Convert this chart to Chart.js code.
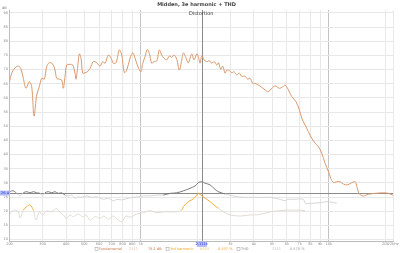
<!DOCTYPE html>
<html>
<head>
<meta charset="utf-8">
<script src="https://cdn.jsdelivr.net/npm/chart.js@4.4.1/dist/chart.umd.min.js"></script>
<style>
body { margin: 0; background: #fff; }
</style>
</head>
<body>
<canvas id="graphique-distorsion" width="400" height="253"></canvas>
<script>
// distorsion.js
// courbe fondamentale, 3e harmonique et THD (mesure REW "Midden")

// fondamentale : fréquences (Hz) et niveaux (dB)
const fondFreq = [200, 205.5, 214, 222.8, 229.5, 236.9, 244.8, 255, 262.6, 270.1, 279.2, 288.2, 296.8, 306.4, 315.6, 325.8, 339.7, 349.4, 356.8, 368.3,
    379.3, 386.8, 395, 403.4, 420, 434.1, 446.5, 452, 461.5, 470.7, 480.6, 490.7, 504.8, 519.3, 536.7, 559, 582.8, 606.8, 627.3, 645.2,
    671.8, 694.4, 714.3, 738.3, 768.8, 791.7, 817.4, 841.8, 876.6, 905.9, 931.8, 958.5, 999.3, 1024, 1053, 1083, 1110, 1143, 1176, 1216,
    1255, 1292, 1329, 1374, 1419, 1461, 1503, 1554, 1604, 1652, 1685, 1741, 1791, 1867, 1921, 1986, 2025, 2068, 2111, 2172,
    2245, 2317, 2387, 2455, 2537, 2588, 2665, 2731, 2809, 2869, 2962, 3050, 3138, 3243, 3349, 3449, 3591, 3694, 3818, 3946,
    4059, 4227, 4406, 4587, 4776, 4982, 5188, 5468, 5700, 5864, 6105, 6365, 6708, 6986, 7195, 7492, 7801, 8133, 8469, 8818,
    9193, 9574, 9969, 10265, 10599, 11050, 11508, 11982, 12585, 13122, 13831, 14122, 14580, 15311, 16278, 17675, 19564, 20803, 22000];
const fondDb = [65.7, 68.7, 70.6, 71.2, 70.4, 66.9, 63.4, 65.7, 63.9, 53.6, 61.0, 63.9, 66.9, 66.6, 71.0, 72.4, 71.9, 69.8, 66.9, 66.6,
    66.3, 63.4, 67.5, 71.6, 71.8, 71.6, 68.7, 66.6, 71.0, 75.5, 74.0, 68.7, 68.9, 69.2, 70.4, 72.8, 72.4, 71.2, 72.8, 72.2,
    75.1, 74.0, 72.2, 72.4, 76.9, 75.1, 68.9, 69.8, 74.0, 75.9, 74.0, 71.6, 69.2, 72.2, 74.5, 77.1, 75.7, 72.2, 72.8, 73.1,
    76.9, 75.1, 74.0, 73.4, 74.8, 74.3, 75.1, 73.6, 69.8, 73.4, 75.9, 74.0, 72.4, 75.5, 73.4, 75.5, 74.5, 72.2, 74.8, 73.4,
    72.8, 73.1, 72.2, 72.8, 71.6, 72.4, 70.1, 71.2, 68.7, 69.8, 69.6, 68.9, 69.2, 68.1, 68.7, 67.5, 67.7, 66.6, 66.9, 65.1,
    65.1, 64.5, 63.7, 62.8, 62.2, 63.4, 64.2, 63.4, 63.9, 64.5, 62.8, 60.4, 58.6, 55.7, 52.8, 50.4, 48.1, 45.7, 44.0, 42.8,
    40.4, 36.9, 34.0, 31.6, 30.2, 30.4, 30.4, 29.6, 29.3, 29.9, 30.4, 28.7, 26.1, 25.4, 26.0, 26.3, 26.5, 26.3, 25.7];

// THD
const thdFreq = [200, 209.5, 218.5, 227.6, 236.9, 247, 257, 268, 279, 291, 300, 309, 322, 336, 349, 364, 379, 395, 411, 429,
    446, 465, 485, 515, 548, 583, 607, 632, 672, 714, 745, 792, 858, 913, 970, 1032, 1120, 1216, 1318, 1431,
    1554, 1685, 1829, 1944, 2025, 2111, 2198, 2337, 2485, 2588, 2809, 3111, 3516, 3976, 4493, 4878, 5513, 5864, 5986, 6492,
    7338, 7492, 7964, 9004, 9773, 11050];
const thdDb = [26.9, 27.2, 26.3, 25.4, 26.5, 26.9, 26.5, 26.9, 26.5, 26.3, 25.4, 26.5, 26.9, 26.5, 26.9, 26.3, 26.5, 25.7, 25.4, 25.7,
    24.6, 25.1, 24.9, 25.4, 24.9, 25.1, 24.6, 24.2, 24.6, 23.7, 24.2, 24.0, 24.6, 24.9, 25.1, 25.4, 25.4, 25.7, 25.7, 26.3,
    26.5, 27.2, 28.1, 28.9, 30.1, 30.4, 29.9, 29.3, 27.7, 26.9, 26.1, 25.4, 24.9, 24.9, 24.9, 24.9, 24.2, 23.7, 24.2, 24.2,
    24.2, 22.8, 22.8, 23.0, 23.4, 22.8];

// 3e harmonique
const h3Freq = [200, 209.5, 222.8, 227.6, 236.9, 247, 257, 268, 277, 288, 300.5, 316, 329, 342, 357, 368, 387, 403, 420, 437,
    465, 491, 511, 537, 571, 607, 637, 672, 714, 759, 792, 835, 877, 951, 1032, 1120, 1216, 1318, 1431, 1554,
    1652, 1685, 1791, 1867, 1944, 2025, 2085, 2198, 2337, 2485, 2588, 2751, 2987, 3377, 3818, 4227, 4684, 4878, 5513, 5986,
    6492, 7047, 7492];
const h3Db = [18.7, 20.4, 19.8, 17.5, 20.4, 21.6, 22.2, 20.4, 16.9, 19.8, 18.7, 20.2, 19.8, 20.2, 21.0, 19.8, 18.7, 17.5, 18.7, 18.1,
    19.0, 18.1, 18.7, 16.9, 18.1, 17.5, 18.3, 17.2, 18.3, 16.9, 16.3, 18.3, 17.9, 19.0, 19.5, 20.2, 19.5, 19.8, 19.8, 19.8,
    20.4, 21.6, 23.4, 24.0, 24.9, 26.3, 25.7, 24.6, 23.4, 21.9, 21.0, 19.8, 18.7, 18.3, 18.7, 18.8, 19.5, 19.8, 20.2, 20.4,
    20.4, 20.4, 20.2];

// axes
const xTicks = [200, 300, 400, 500, 600, 700, 800, 900, 1000, 2000, 3000, 4000, 5000, 6000, 7000, 8000, 9000, 10000, 20000, 22000];
const yTicks = [10, 15, 20, 25, 30, 35, 40, 45, 50, 55, 60, 65, 70, 75, 80, 85, 90];

// curseur
const curseurFreq = 2111;
const curseurDb = 26.4;

const police = 'DejaVu Sans';

function points(freqs, valeurs) {
    return freqs.map((f, i) => ({ x: f, y: valeurs[i] }));
}

function labelFreq(v) {
    if (v === 22000) return '22kHz';
    if (v < 1000) return String(v);
    return (v / 1000) + 'k';
}

// textes, curseur et légende façon REW
const habillage = {
    id: 'habillage',
    beforeDatasetsDraw(chart) {
        const { ctx, chartArea, scales } = chart;
        const x = Math.round(scales.x.getPixelForValue(curseurFreq)) + 0.5;
        const y = Math.round(scales.y.getPixelForValue(curseurDb)) + 0.5;
        ctx.save();
        ctx.strokeStyle = '#8a8a8a';
        ctx.lineWidth = 1;
        ctx.beginPath();
        ctx.moveTo(x, chartArea.top);
        ctx.lineTo(x, chartArea.bottom);
        ctx.moveTo(0, y);
        ctx.lineTo(chartArea.right, y);
        ctx.stroke();
        ctx.restore();
    },
    afterDraw(chart) {
        const { ctx, chartArea, scales } = chart;
        const x = scales.x.getPixelForValue(curseurFreq);
        const y = scales.y.getPixelForValue(curseurDb);
        ctx.save();
        ctx.textBaseline = 'middle';

        ctx.font = '5px "' + police + '"';
        ctx.fillStyle = '#333';
        ctx.textAlign = 'center';
        ctx.fillText('Distortion', (chartArea.left + chartArea.right) / 2, 13.5);

        ctx.font = '3.5px "' + police + '"';
        ctx.fillStyle = '#777';
        ctx.textAlign = 'left';
        ctx.fillText('dB', 2, 8);

        // étiquettes du curseur
        ctx.fillStyle = '#b4bcf8';
        ctx.fillRect(0, y - 2.5, 10, 5);
        ctx.fillRect(x - 5, chartArea.bottom + 0.5, 10, 5.5);
        ctx.fillStyle = '#2233cc';
        ctx.font = '3.5px "' + police + '"';
        ctx.textAlign = 'center';
        ctx.fillText(curseurDb.toFixed(1), 5, y);
        ctx.fillText((curseurFreq / 1000).toFixed(3) + 'k', x, chartArea.bottom + 3.3);

        // légende
        const yl = 249;
        const cases = [
            { x: 95, texte: 'Fundamental', couleur: '#c87848' },
            { x: 166, texte: '3rd harmonic', couleur: '#f0a020' },
            { x: 237, texte: 'THD', couleur: '#888' }
        ];
        cases.forEach(c => {
            ctx.strokeStyle = '#999';
            ctx.lineWidth = 0.5;
            ctx.strokeRect(c.x, yl - 1.5, 3, 3);
            ctx.fillStyle = c.couleur;
            ctx.textAlign = 'left';
            ctx.fillText(c.texte, c.x + 4, yl);
        });
        const valeurs = [
            { x: 129, texte: '2111', couleur: '#e8b898' },
            { x: 148, texte: '75.1 dB', couleur: '#c06a38' },
            { x: 200, texte: '6333', couleur: '#f5c070' },
            { x: 218, texte: '0.337 %', couleur: '#f0a020' },
            { x: 272, texte: '2111', couleur: '#bbb' },
            { x: 290, texte: '0.578 %', couleur: '#999' }
        ];
        valeurs.forEach(v => {
            ctx.fillStyle = v.couleur;
            ctx.fillText(v.texte, v.x, yl);
        });
        ctx.restore();
    }
};

const ctx = document.getElementById('graphique-distorsion').getContext('2d');
new Chart(ctx, {
    type: 'line',
    data: {
        datasets: [
            {
                label: 'THD',
                data: points(thdFreq, thdDb),
                borderColor: '#d6d6d6',
                borderWidth: 1,
                pointRadius: 0,
                tension: 0.35,
                segment: {
                    borderColor: c => (c.p0.parsed.y + c.p1.parsed.y) / 2 >= 26 ? '#7a7a7a' : '#d6d6d6'
                }
            },
            {
                label: '3rd harmonic',
                data: points(h3Freq, h3Db),
                borderColor: '#e0dcd4',
                borderWidth: 1,
                pointRadius: 0,
                tension: 0.35,
                segment: {
                    borderColor: c => (c.p0.parsed.y + c.p1.parsed.y) / 2 >= 20.7 ? '#f4ac38' : '#e0dcd4'
                }
            },
            {
                label: 'Fundamental',
                data: points(fondFreq, fondDb),
                borderColor: '#d9986c',
                borderWidth: 1,
                pointRadius: 0,
                tension: 0.35
            }
        ]
    },
    options: {
        responsive: false,
        animation: false,
        layout: { padding: { right: 7, left: 0, bottom: 0, top: 0 } },
        plugins: {
            legend: { display: false },
            tooltip: { enabled: false },
            title: {
                display: true,
                text: 'Midden, 3e harmonic + THD',
                color: '#444',
                font: { family: police, size: 5, lineHeight: 1 },
                padding: { top: 2.5, bottom: 2.5 }
            }
        },
        scales: {
            x: {
                type: 'logarithmic',
                min: 200,
                max: 22000,
                afterBuildTicks: scale => { scale.ticks = xTicks.map(v => ({ value: v })); },
                afterFit: scale => { scale.height = 12; },
                ticks: {
                    autoSkip: false,
                    maxRotation: 0,
                    padding: 1,
                    color: '#888',
                    font: { family: police, size: 3.5 },
                    callback: v => labelFreq(v)
                },
                grid: {
                    drawTicks: false,
                    color: c => (c.tick && (c.tick.value === 1000 || c.tick.value === 10000)) ? '#c4c4c4' : '#e8e8e8'
                },
                border: { color: '#bbb' }
            },
            y: {
                min: 9.5,
                max: 91,
                afterBuildTicks: scale => { scale.ticks = yTicks.map(v => ({ value: v })); },
                afterFit: scale => { scale.width = 9.5; },
                ticks: {
                    padding: 1.5,
                    color: '#888',
                    font: { family: police, size: 3.5 }
                },
                grid: {
                    drawTicks: false,
                    color: '#e8e8e8'
                },
                border: { color: '#bbb' }
            }
        }
    },
    plugins: [habillage]
});
</script>
</body>
</html>
